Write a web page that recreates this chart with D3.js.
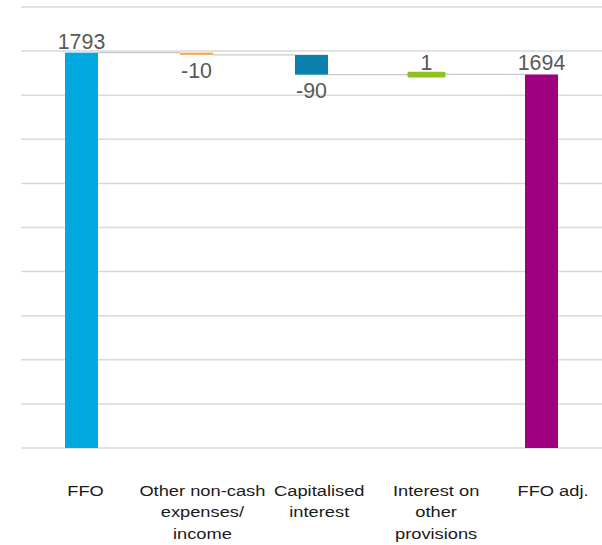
<!DOCTYPE html>
<html>
<head>
<meta charset="utf-8">
<script src="https://cdn.jsdelivr.net/npm/d3@7"></script>
<style>
  body { margin: 0; background: #fff; }
  svg { display: block; font-family: "Liberation Sans", Arial, sans-serif; }
</style>
</head>
<body>
<svg id="chart" width="602" height="545"></svg>
<script>
// chart data
var categories = [["FFO"], ["Other non-cash", "expenses/", "income"], ["Capitalised", "interest"], ["Interest on", "other", "provisions"], ["FFO adj."]];
var values = [1793, -10, -90, 1, 1694];
var kinds = ["total", "delta", "delta", "delta", "total"];
var barColors = ["#00a8df", "#f5a650", "#0a80aa", "#8dc220", "#9e007f"];
var gridTicks = [0, 200, 400, 600, 800, 1000, 1200, 1400, 1600, 1800, 2000];

var svg = d3.select("#chart");

// running totals for the waterfall
var running = 0;
var steps = values.map(function(v, i) {
    var start, end;
    if (kinds[i] == "total") {
        start = 0; end = v; running = v;
    } else {
        start = running; end = running + v; running = end;
    }
    return {i: i, value: v, start: start, end: end, kind: kinds[i]};
});

var xScale = d3.scaleBand().domain(d3.range(values.length)).range([24, 599])
    .paddingInner(0.713).paddingOuter(0.3565);
var labelScale = d3.scalePoint().domain(d3.range(values.length)).range([85.5, 553]);
var yScale = d3.scaleLinear().domain([0, 2000]).range([448, 7]);

// gridlines
svg.append("g").selectAll("line")
    .data(gridTicks)
    .enter()
    .append("line")
    .attr("x1", 21).attr("x2", 602)
    .attr("y1", function(d) { return yScale(d); })
    .attr("y2", function(d) { return yScale(d); })
    .attr("stroke", "#d9d9d9")
    .attr("stroke-width", 1.5);

// connectors between bars
svg.append("g").selectAll("line")
    .data(steps.slice(0, -1))
    .enter()
    .append("line")
    .attr("x1", function(d) { return xScale(d.i) + xScale.bandwidth(); })
    .attr("x2", function(d) { return xScale(d.i + 1); })
    .attr("y1", function(d) { return yScale(d.end); })
    .attr("y2", function(d) { return yScale(d.end); })
    .attr("stroke", "#c8c8c8")
    .attr("stroke-width", 1.2);

// bars, tiny ones are blown up so they stay visible
function isTiny(d) { return Math.abs(yScale(d.start) - yScale(d.end)) < 1; }

svg.append("g").selectAll("rect")
    .data(steps)
    .enter()
    .append("rect")
    .attr("x", function(d) { return xScale(d.i) - (isTiny(d) ? 2.5 : 0); })
    .attr("width", function(d) { return xScale.bandwidth() + (isTiny(d) ? 5 : 0); })
    .attr("y", function(d) {
        var top = yScale(Math.max(d.start, d.end));
        return isTiny(d) ? (yScale(d.start) + yScale(d.end)) / 2 - 2.8 : top;
    })
    .attr("height", function(d) {
        return isTiny(d) ? 5.6 : Math.abs(yScale(d.start) - yScale(d.end));
    })
    .attr("rx", function(d) { return isTiny(d) ? 1.5 : 0; })
    .attr("fill", function(d) { return barColors[d.i]; });

// value labels
svg.append("g").selectAll("text")
    .data(steps)
    .enter()
    .append("text")
    .attr("transform", function(d) {
        var cx = xScale(d.i) + xScale.bandwidth() / 2;
        var y;
        if (d.value < 0) {
            y = yScale(Math.min(d.start, d.end)) + 23;
        } else if (isTiny(d)) {
            y = (yScale(d.start) + yScale(d.end)) / 2 - 5;
        } else {
            y = yScale(Math.max(d.start, d.end)) - 4;
        }
        return "translate(" + cx + "," + y + ") scale(0.93,1)";
    })
    .attr("text-anchor", "middle")
    .attr("font-size", 23)
    .attr("fill", "#595959")
    .text(function(d) { return d.value; });

// category labels
var cats = svg.append("g").selectAll("text")
    .data(categories)
    .enter()
    .append("text")
    .attr("transform", function(d, i) { return "translate(" + labelScale(i) + ",496) scale(1.18,1)"; })
    .attr("text-anchor", "middle")
    .attr("font-size", 15.5)
    .attr("fill", "#1a1a1a");

cats.selectAll("tspan")
    .data(function(d) { return d; })
    .enter()
    .append("tspan")
    .attr("x", 0)
    .attr("dy", function(d, j) { return j == 0 ? 0 : 21.5; })
    .text(function(d) { return d; });
</script>
</body>
</html>
